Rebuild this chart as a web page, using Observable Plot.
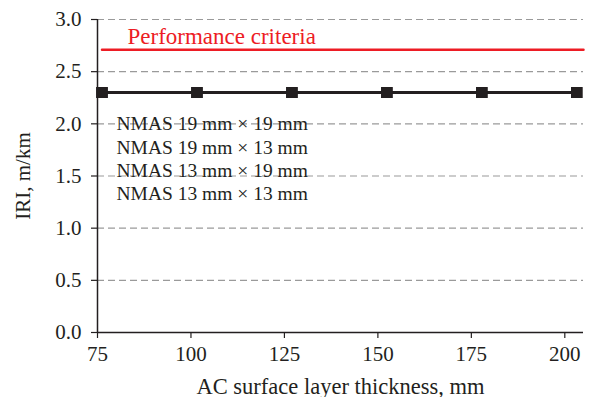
<!DOCTYPE html>
<html>
<head>
<meta charset="utf-8">
<script src="https://cdn.jsdelivr.net/npm/d3@7"></script>
<script src="https://cdn.jsdelivr.net/npm/@observablehq/plot@0.6"></script>
<style>
  html, body { margin: 0; padding: 0; background: #fff; }
  #chart svg { display: block; }
</style>
</head>
<body>
<div id="chart"></div>
<script>
// Data
const thickness = [76.2, 101.6, 127, 152.4, 177.8, 203.2];
const seriesNames = ["NMAS 19 mm × 19 mm", "NMAS 19 mm × 13 mm", "NMAS 13 mm × 19 mm", "NMAS 13 mm × 13 mm"];
const seriesValues = [
  [2.30, 2.30, 2.30, 2.30, 2.30, 2.30],
  [2.30, 2.30, 2.30, 2.30, 2.30, 2.30],
  [2.30, 2.30, 2.30, 2.30, 2.30, 2.30],
  [2.30, 2.30, 2.30, 2.30, 2.30, 2.30]
];
const criterionValue = 2.71;
const criterionLabel = "Performance criteria";
const criterionX = [76.2, 205];
const xTicks = [75, 100, 125, 150, 175, 200];
const yTicks = [0, 0.5, 1.0, 1.5, 2.0, 2.5, 3.0];
const gridTicks = [0.5, 1.0, 1.5, 2.0, 2.5, 3.0];

const rows = [];
seriesNames.forEach((s, i) => thickness.forEach((t, j) => rows.push({series: s, x: t, y: seriesValues[i][j]})));
const critRows = criterionX.map(x => ({x, y: criterionValue}));

const font = "'Liberation Serif', 'DejaVu Serif', serif";
const ink = "#231f20";

const chart = Plot.plot({
  width: 589,
  height: 397,
  marginLeft: 97,
  marginRight: 6,
  marginTop: 19,
  marginBottom: 65,
  style: {fontFamily: font, fontSize: "20px", color: ink, background: "#fff"},
  x: {domain: [75, 205]},
  y: {domain: [0, 3]},
  marks: [
    Plot.gridY(gridTicks, {stroke: "#9a9a9a", strokeOpacity: 1, strokeDasharray: "7,4", strokeWidth: 1.2}),
    Plot.axisX(xTicks, {tickSize: 6, tickPadding: 8, fontSize: 21, label: "AC surface layer thickness, mm", labelAnchor: "center", labelArrow: "none", labelOffset: 61, stroke: ink, strokeWidth: 1.2, tickFormat: d => d}),
    Plot.axisY(yTicks, {tickSize: 6, tickPadding: 10, fontSize: 21, label: "IRI, m/km", labelAnchor: "center", labelArrow: "none", labelOffset: 82, stroke: ink, strokeWidth: 1.2, tickFormat: d => d.toFixed(1)}),
    Plot.ruleY([0], {stroke: ink, strokeWidth: 1.5}),
    Plot.ruleX([75], {stroke: ink, strokeWidth: 1.5}),
    Plot.line(critRows, {x: "x", y: "y", stroke: "#ed1c24", strokeWidth: 2.5}),
    Plot.text([criterionLabel], {frameAnchor: "top-left", dx: 30, dy: 8, fill: "#ed1c24", fontSize: 23, textAnchor: "start", lineAnchor: "top"}),
    Plot.line(rows, {x: "x", y: "y", z: "series", stroke: ink, strokeWidth: 3}),
    Plot.dot(rows, {x: "x", y: "y", symbol: "square", r: 6.2, fill: ink, stroke: "none"}),
    Plot.text([seriesNames.join("\n")], {frameAnchor: "top-left", dx: 19, dy: 94, lineHeight: 1.2, fill: ink, fontSize: 19.5, textAnchor: "start", lineAnchor: "top"})
  ]
});
chart.querySelectorAll("[aria-label='x-axis label'] text, [aria-label='x-axis label']").forEach(el => el.setAttribute("font-size", "22.5"));
document.getElementById("chart").appendChild(chart);
</script>
</body>
</html>
